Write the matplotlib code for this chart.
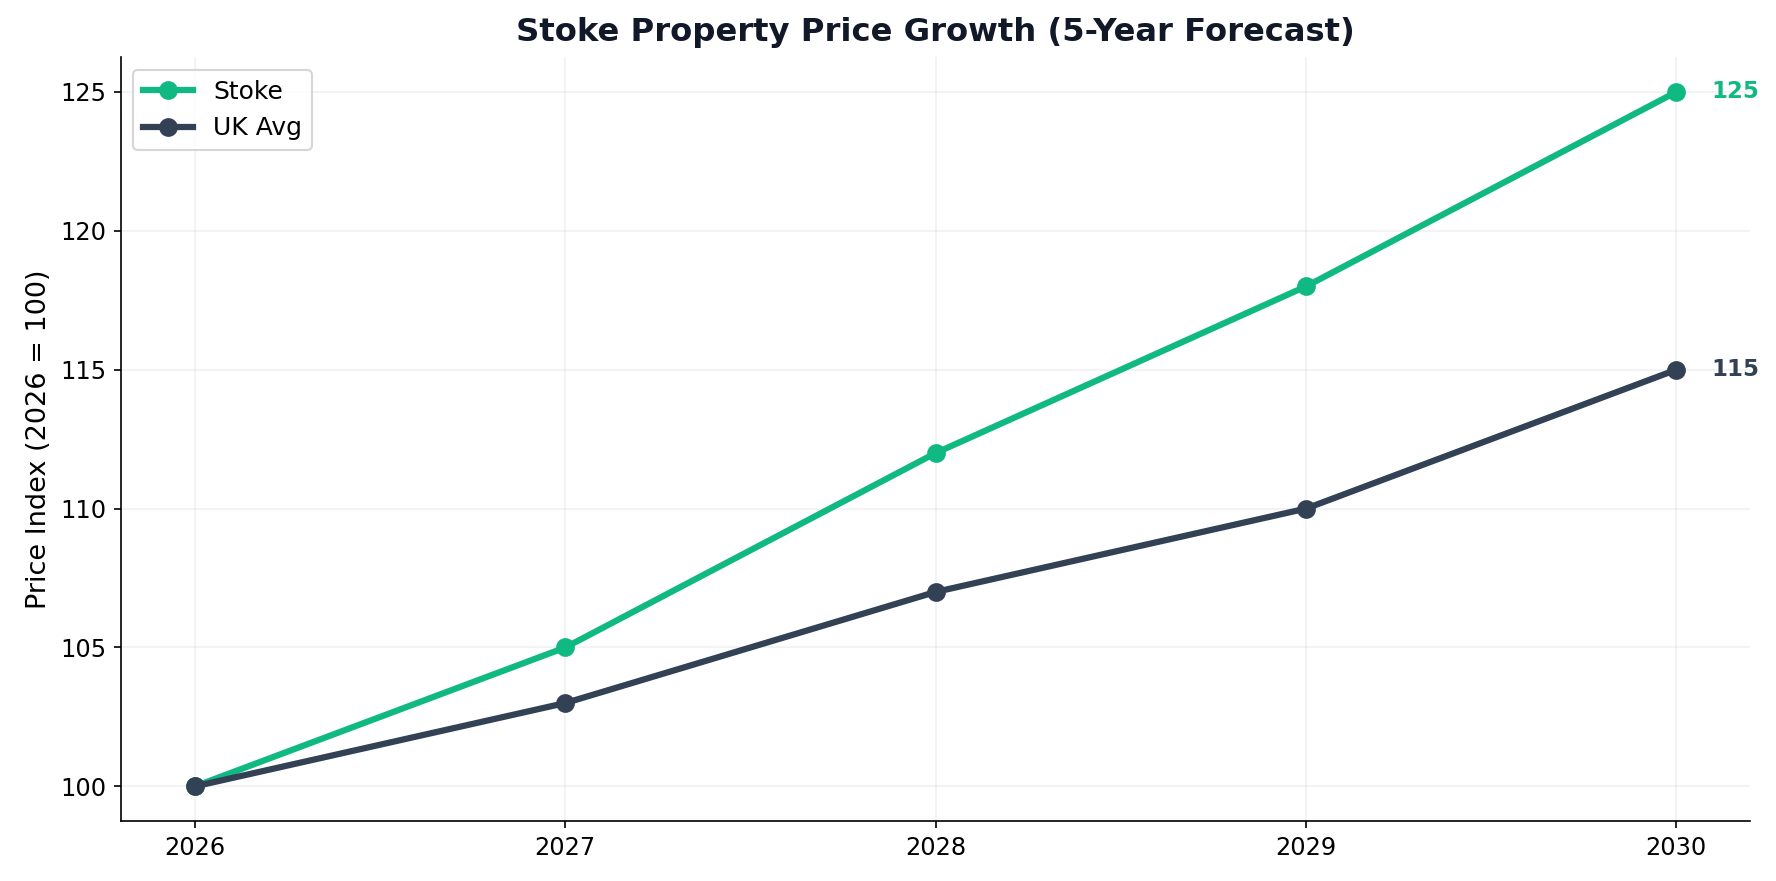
import matplotlib
matplotlib.use("Agg")
import matplotlib.pyplot as plt

# forecast data
years = [2026, 2027, 2028, 2029, 2030]
stoke = [100, 105, 112, 118, 125]
uk_avg = [100, 103, 107, 110, 115]

green = '#10b981'
slate = '#334155'

fig, ax = plt.subplots(figsize=(1777 / 150, 881 / 150), dpi=150)

ax.plot(years, stoke, color=green, lw=3, marker='o', markersize=8, label='Stoke')
ax.plot(years, uk_avg, color=slate, lw=3, marker='o', markersize=8, label='UK Avg')

# end labels
for series, col in [(stoke, green), (uk_avg, slate)]:
    ax.annotate(str(series[-1]), xy=(years[-1], series[-1]), xytext=(17, 0),
                textcoords='offset points', va='center', ha='left',
                fontsize=11, fontweight='bold', color=col, annotation_clip=False)

ax.set_title('Stoke Property Price Growth (5-Year Forecast)', fontsize=15.5,
             fontweight='bold', color='#111827', pad=8)
ax.set_ylabel('Price Index (2026 = 100)', fontsize=13)
ax.set_xticks(years)
ax.tick_params(labelsize=11.5)
ax.grid(True, alpha=0.18)
ax.spines['top'].set_visible(False)
ax.spines['right'].set_visible(False)
ax.legend(loc='upper left', fontsize=12)

fig.subplots_adjust(left=0.068, right=0.985, top=0.935, bottom=0.068)
fig.savefig('out.png', dpi=150)
